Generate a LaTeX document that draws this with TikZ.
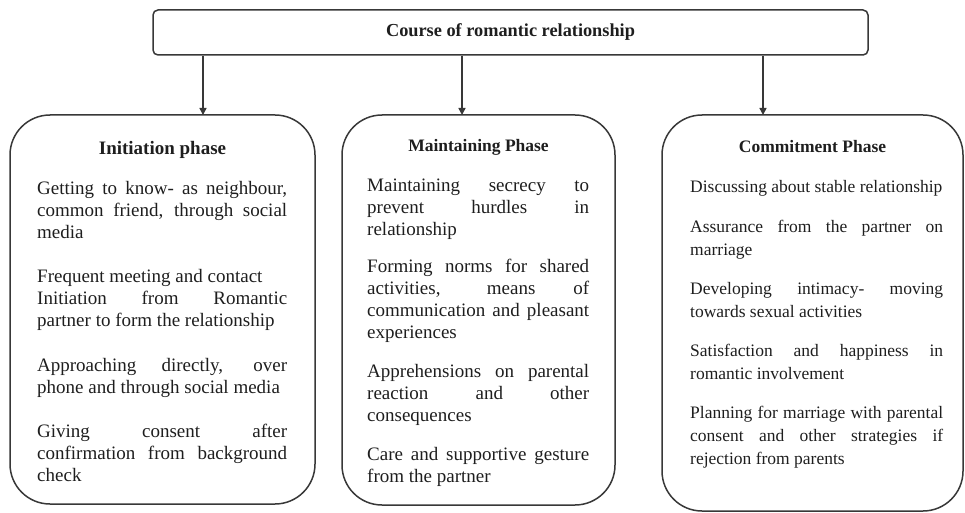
\documentclass[tikz,border=0pt]{standalone}
\usepackage{fontspec}
\setmainfont{Liberation Serif}
\usetikzlibrary{arrows.meta}
\definecolor{linec}{HTML}{383838}
\definecolor{textc}{HTML}{1E1E1E}
\newcommand\jla[1]{\makebox[250pt][s]{#1}}
\newcommand\jlb[1]{\makebox[222pt][s]{#1}}
\newcommand\jlc[1]{\makebox[253pt][s]{#1}}
\newcommand\sta{\rule{0pt}{15pt}}
\newcommand\stc{\rule{0pt}{14pt}}
\tikzset{
  phasebox/.style={draw=linec, line width=1.5pt, rounded corners=40pt, inner sep=0pt},
  topbox/.style={draw=linec, line width=1.5pt, rounded corners=5pt, inner sep=0pt,
    minimum width=715pt, minimum height=45pt, text=textc,
    font=\bfseries\fontsize{18.3}{22}\selectfont},
  parabig/.style={anchor=north west, inner sep=0pt, align=left, text=textc,
    font=\fontsize{19}{22}\selectfont},
  parasmall/.style={anchor=north west, inner sep=0pt, align=left, text=textc,
    font=\fontsize{17.5}{23}\selectfont},
  ptitle/.style={anchor=base, inner sep=0pt, text=textc},
  arr/.style={draw=linec, line width=1.5pt, -{Triangle[width=7pt,length=7pt]}}
}
\begin{document}
\begin{tikzpicture}[x=1pt,y=-1pt]
\useasboundingbox (0,0) rectangle (965,513);

% top box
\node[topbox] (top) at (510.5,32.5) {Course of romantic relationship};

% phase boxes
\node[phasebox, minimum width=305pt, minimum height=389pt] (lbox) at (162.5,309.5) {};
\node[phasebox, minimum width=273pt, minimum height=390pt] (mbox) at (478.5,310) {};
\node[phasebox, minimum width=301pt, minimum height=396pt] (rbox) at (812.5,313) {};

% arrows
\coordinate (lin) at (203,115);
\coordinate (min) at (462,115);
\coordinate (rin) at (763,115);
\draw[arr] (lin |- top.south) -- (lin);
\draw[arr] (min |- top.south) -- (min);
\draw[arr] (rin |- top.south) -- (rin);

% titles
\node[ptitle, font=\bfseries\fontsize{19}{22}\selectfont] (ltitle) at (162.5,155) {Initiation phase};
\node[ptitle, font=\bfseries\fontsize{17.5}{22}\selectfont] (mtitle) at (478.5,152) {Maintaining Phase};
\node[ptitle, font=\bfseries\fontsize{17.5}{22}\selectfont] (rtitle) at (812.5,153) {Commitment Phase};

% left column
\node[parabig] (l1) at (37,179) {\sta\jla{Getting to know- as neighbour,}\\\jla{common friend, through social}\\media};
\node[parabig] (l2) at (37,267) {\sta Frequent meeting and contact\\\jla{Initiation from Romantic}\\partner to form the relationship};
\node[parabig] (l3) at (37,356) {\sta\jla{Approaching directly, over}\\phone and through social media};
\node[parabig] (l4) at (37,422) {\sta\jla{Giving consent after}\\\jla{confirmation from background}\\check};

% middle column
\node[parabig] (m1) at (367,176) {\sta\jlb{Maintaining secrecy to}\\\jlb{prevent hurdles in}\\relationship};
\node[parabig] (m2) at (367,257) {\sta\jlb{Forming norms for shared}\\\jlb{activities, means of}\\\jlb{communication and pleasant}\\experiences};
\node[parabig] (m3) at (367,362) {\sta\jlb{Apprehensions on parental}\\\jlb{reaction and other}\\consequences};
\node[parabig] (m4) at (367,445) {\sta\jlb{Care and supportive gesture}\\from the partner};

% right column
\node[parasmall] (r1) at (690,178) {\stc Discussing about stable relationship};
\node[parasmall] (r2) at (690,218) {\stc\jlc{Assurance from the partner on}\\marriage};
\node[parasmall] (r3) at (690,280) {\stc\jlc{Developing intimacy- moving}\\towards sexual activities};
\node[parasmall] (r4) at (690,342) {\stc\jlc{Satisfaction and happiness in}\\romantic involvement};
\node[parasmall] (r5) at (690,404) {\stc\jlc{Planning for marriage with parental}\\\jlc{consent and other strategies if}\\rejection from parents};
\end{tikzpicture}
\end{document}
